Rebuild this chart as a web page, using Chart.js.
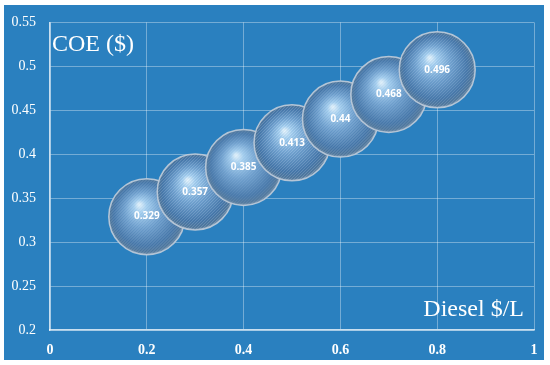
<!DOCTYPE html>
<html>
<head>
<meta charset="utf-8">
<script src="https://cdn.jsdelivr.net/npm/chart.js@4/dist/chart.umd.min.js"></script>
<style>
  html, body { margin: 0; padding: 0; background: #ffffff; }
  #wrap { width: 550px; height: 365px; }
</style>
</head>
<body>
<div id="wrap"><canvas id="coe" width="550" height="365"></canvas></div>
<script>
// diesel price ($/L) vs cost of energy ($)
var dieselPrice = [0.2, 0.3, 0.4, 0.5, 0.6, 0.7, 0.8];
var coeValues = [0.329, 0.357, 0.385, 0.413, 0.44, 0.468, 0.496];
var xTicks = [0, 0.2, 0.4, 0.6, 0.8, 1];
var yTicks = [0.2, 0.25, 0.3, 0.35, 0.4, 0.45, 0.5, 0.55];

var BLUE = '#2a80bf';
var R = 38;

// sphere texture: radial shading + fine diagonal hatching
var sprite = document.createElement('canvas');
sprite.width = R * 2 + 6;
sprite.height = R * 2 + 6;
(function () {
  var s = sprite.getContext('2d');
  var c = R + 3;
  var g = s.createRadialGradient(c - R * 0.2, c - R * 0.32, 1, c, c, R + 1);
  g.addColorStop(0, '#e2f4ff');
  g.addColorStop(0.14, '#a6d2f4');
  g.addColorStop(0.45, '#6fa2d2');
  g.addColorStop(0.8, '#4679ad');
  g.addColorStop(0.93, '#50799f');
  g.addColorStop(1, '#98adc2');
  s.fillStyle = g;
  s.fillRect(0, 0, sprite.width, sprite.height);
  s.lineWidth = 1;
  for (var k = -sprite.height; k < sprite.width; k += 3) {
    s.strokeStyle = 'rgba(255,255,255,0.18)';
    s.beginPath();
    s.moveTo(k, sprite.height);
    s.lineTo(k + sprite.height, 0);
    s.stroke();
    s.strokeStyle = 'rgba(20,50,90,0.12)';
    s.beginPath();
    s.moveTo(k + 1.5, sprite.height);
    s.lineTo(k + 1.5 + sprite.height, 0);
    s.stroke();
  }
})();

var points = dieselPrice.map(function (x, i) { return { x: x, y: coeValues[i] }; });

function trimTick(v) { return String(Math.round(v * 100) / 100); }

var frame = {
  id: 'frame',
  beforeDraw: function (chart) {
    var c = chart.ctx;
    c.save();
    c.fillStyle = BLUE;
    c.fillRect(4, 5, 540, 355);
    c.restore();
  },
  afterDatasetsDraw: function (chart) {
    var c = chart.ctx;
    var meta = chart.getDatasetMeta(0);
    var a = chart.chartArea;
    c.save();
    c.fillStyle = '#ffffff';
    c.textAlign = 'center';
    c.textBaseline = 'middle';
    c.font = 'bold 10px "Open Sans", sans-serif';
    meta.data.forEach(function (el, i) {
      c.fillText(String(coeValues[i]), el.x, el.y);
    });
    c.font = '24px "Liberation Serif", serif';
    c.textAlign = 'left';
    c.fillText('COE ($)', a.left + 2, a.top + 22);
    c.textAlign = 'right';
    c.fillText('Diesel $/L', a.right - 10, a.bottom - 20);
    c.restore();
  }
};

new Chart(document.getElementById('coe'), {
  type: 'bubble',
  data: {
    datasets: [{
      data: points,
      radius: R,
      hoverRadius: R,
      borderWidth: 1.5,
      borderColor: 'rgba(185,200,216,0.95)',
      backgroundColor: function (ctx) {
        if (ctx.type !== 'data') return '#6fa2d2';
        var ch = ctx.chart;
        var px = ch.scales.x.getPixelForValue(ctx.raw.x);
        var py = ch.scales.y.getPixelForValue(ctx.raw.y);
        var p = ch.ctx.createPattern(sprite, 'no-repeat');
        p.setTransform(new DOMMatrix().translate(px - R - 3, py - R - 3));
        return p;
      }
    }]
  },
  options: {
    responsive: false,
    animation: false,
    layout: { autoPadding: false, padding: { top: 16, right: 16, left: 0, bottom: 0 } },
    plugins: { legend: { display: false }, tooltip: { enabled: false } },
    scales: {
      x: {
        type: 'linear', min: 0, max: 1,
        afterBuildTicks: function (s) { s.ticks = xTicks.map(function (v) { return { value: v }; }); },
        afterFit: function (s) { s.height = 35; },
        grid: { color: 'rgba(255,255,255,0.35)', drawTicks: false },
        border: { color: 'rgba(255,255,255,0.75)', width: 1.5 },
        ticks: {
          color: '#ffffff', padding: 12, maxRotation: 0, callback: trimTick,
          font: { family: '"Liberation Serif", serif', size: 14, weight: 'bold' }
        }
      },
      y: {
        type: 'linear', min: 0.2, max: 0.55,
        afterBuildTicks: function (s) { s.ticks = yTicks.map(function (v) { return { value: v }; }); },
        afterFit: function (s) { s.width = 50; },
        grid: { color: 'rgba(255,255,255,0.35)', drawTicks: false },
        border: { color: 'rgba(255,255,255,0.75)', width: 1.5 },
        ticks: {
          color: '#ffffff', padding: 14, callback: trimTick,
          font: { family: '"Liberation Serif", serif', size: 14 }
        }
      }
    }
  },
  plugins: [frame]
});
</script>
</body>
</html>
